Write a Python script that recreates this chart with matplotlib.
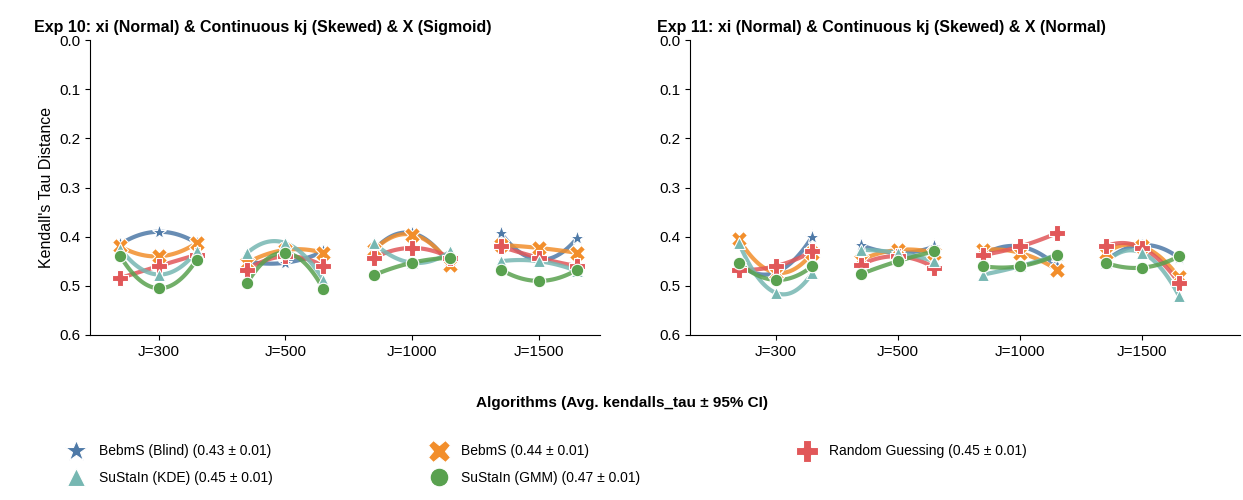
import numpy as np
import matplotlib.pyplot as plt

plt.rcParams['font.family'] = ['Liberation Sans', 'DejaVu Sans']

groups = ["J=300", "J=500", "J=1000", "J=1500"]
names = ["BebmS (Blind) (0.43 ± 0.01)", "BebmS (0.44 ± 0.01)", "Random Guessing (0.45 ± 0.01)",
         "SuStaIn (KDE) (0.45 ± 0.01)", "SuStaIn (GMM) (0.47 ± 0.01)"]
colors = ["#4e79a7", "#f28e2b", "#e15759", "#76b7b2", "#59a14f"]
markers = ["*", "X", "P", "^", "o"]
msizes = [11, 11, 11, 9, 9]

exp10 = [
    [[0.415, 0.39, 0.413], [0.45, 0.453, 0.43], [0.427, 0.393, 0.46], [0.393, 0.447, 0.403]],
    [[0.42, 0.44, 0.413], [0.453, 0.427, 0.433], [0.427, 0.396, 0.457], [0.417, 0.423, 0.433]],
    [[0.484, 0.46, 0.437], [0.467, 0.44, 0.46], [0.443, 0.423, 0.443], [0.42, 0.443, 0.46]],
    [[0.425, 0.477, 0.43], [0.433, 0.413, 0.488], [0.413, 0.453, 0.43], [0.45, 0.45, 0.47]],
    [[0.44, 0.505, 0.447], [0.494, 0.433, 0.507], [0.478, 0.453, 0.443], [0.467, 0.49, 0.467]],
]
exp11 = [
    [[0.455, 0.473, 0.40], [0.417, 0.433, 0.42], [0.437, 0.42, 0.46], [0.45, 0.417, 0.443]],
    [[0.405, 0.473, 0.433], [0.447, 0.427, 0.433], [0.427, 0.433, 0.467], [0.433, 0.42, 0.483]],
    [[0.467, 0.46, 0.43], [0.457, 0.44, 0.463], [0.437, 0.42, 0.393], [0.42, 0.423, 0.494]],
    [[0.413, 0.514, 0.474], [0.427, 0.433, 0.45], [0.477, 0.46, 0.437], [0.453, 0.433, 0.52]],
    [[0.453, 0.488, 0.46], [0.476, 0.45, 0.43], [0.46, 0.46, 0.437], [0.453, 0.463, 0.44]],
]
titles = ["Exp 10: xi (Normal) & Continuous kj (Skewed) & X (Sigmoid)",
          "Exp 11: xi (Normal) & Continuous kj (Skewed) & X (Normal)"]

fig = plt.figure(figsize=(12.43, 5), dpi=100)
ax1 = fig.add_axes([90/1243, 1-335/500, 510/1243, 295/500])
ax2 = fig.add_axes([690/1243, 1-335/500, 550/1243, 295/500])
offs = np.array([-0.3, 0.0, 0.3])
handles = []
for ax, data, title, xl in [(ax1, exp10, titles[0], (-0.54, 3.48)), (ax2, exp11, titles[1], (-0.7, 3.8))]:
    for k in range(5):
        for g in range(4):
            xs = g + offs
            ys = np.array(data[k][g])
            c = np.polyfit(xs, ys, 2)
            xx = np.linspace(xs[0], xs[-1], 50)
            ax.plot(xx, np.polyval(c, xx), color=colors[k], lw=3, alpha=0.85, zorder=2)
            h, = ax.plot(xs, ys, ls='none', marker=markers[k], color=colors[k], ms=msizes[k],
                         mec='white', mew=0.8, zorder=3)
        if ax is ax1:
            handles.append(h)
    ax.set_ylim(0.6, 0.0)
    ax.set_xlim(*xl)
    ax.set_xticks(range(4))
    ax.set_xticklabels(groups)
    ax.set_yticks(np.arange(0, 0.61, 0.1))
    ax.set_title(title, fontweight='bold', fontsize=11.5, loc='left', x=-0.11 if ax is ax1 else -0.06)
    ax.spines['top'].set_visible(False)
    ax.spines['right'].set_visible(False)
    ax.tick_params(labelsize=11)
ax1.set_ylabel("Kendall's Tau Distance", fontsize=11.5)
fig.text(0.5, 1-403/500, "Algorithms (Avg. kendalls_tau ± 95% CI)", ha='center', va='center',
         fontweight='bold', fontsize=11)
order = [0, 3, 1, 4, 2]
fig.legend([handles[i] for i in order], [names[i] for i in order], loc='upper left',
           bbox_to_anchor=(50/1243, 1-432/500), ncol=3, frameon=False, fontsize=10,
           columnspacing=11, handletextpad=0.6, markerscale=1.5, labelspacing=0.9)
fig.savefig("out.png", dpi=100)
